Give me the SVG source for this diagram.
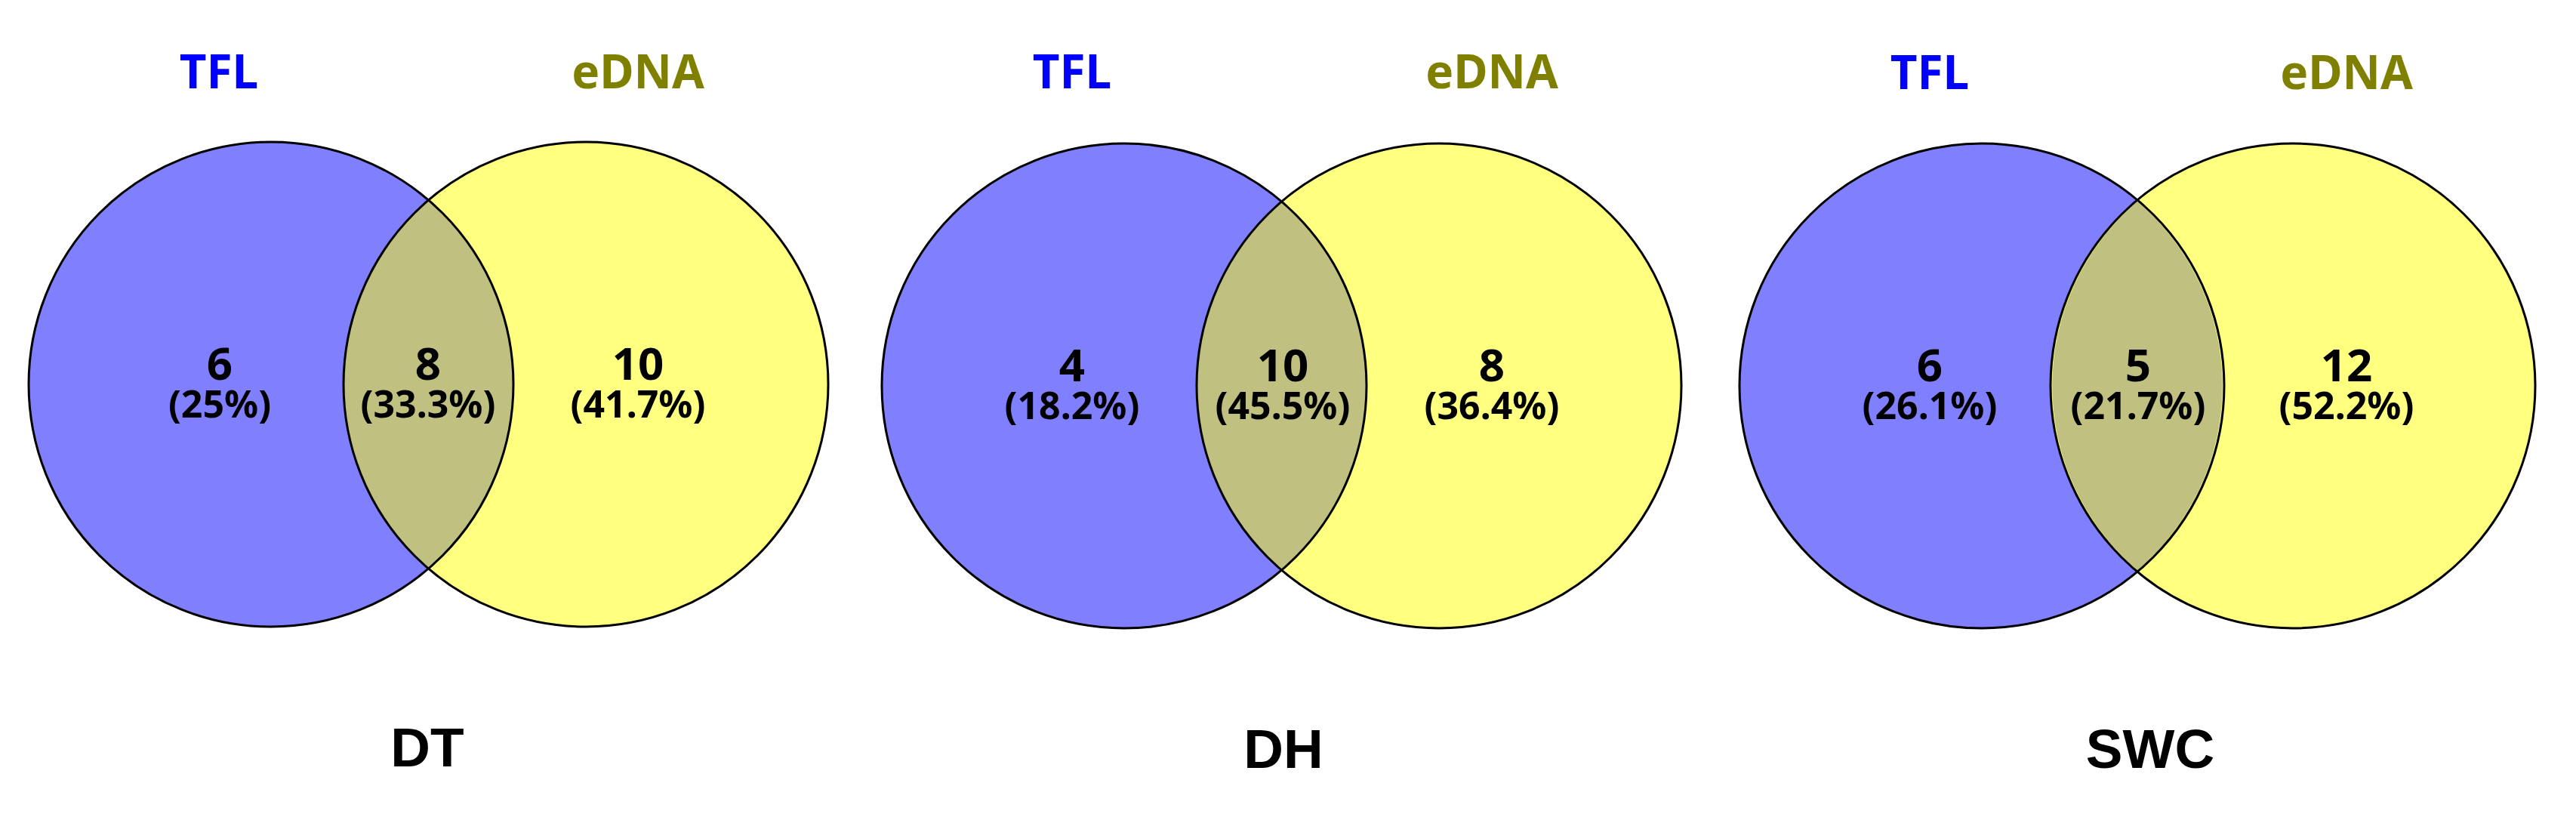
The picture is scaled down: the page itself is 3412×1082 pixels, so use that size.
<svg xmlns="http://www.w3.org/2000/svg" width="3412" height="1082" viewBox="0 0 3412 1082">
<style>
.bg{fill:#ffffff}
.a{fill:#8080ff}
.b{fill:#ffff80}
.ab{fill:#c0c080}
.ring{fill:none;stroke:#000;stroke-width:3}
.lab{font-family:"Noto Sans","Liberation Sans",sans-serif;font-weight:bold;font-size:62px;text-anchor:middle}
.tfl{fill:#0000ff}
.edna{fill:#808000}
.num{font-family:"Noto Sans","Liberation Sans",sans-serif;font-weight:bold;font-size:60px;text-anchor:middle;fill:#000}
.pct{font-family:"Noto Sans","Liberation Sans",sans-serif;font-weight:bold;font-size:50px;text-anchor:middle;fill:#000}
.title{font-family:"Liberation Sans",Arial,sans-serif;font-weight:bold;font-size:73px;text-anchor:middle;fill:#000}
</style>
<rect class="bg" x="0" y="0" width="3412" height="1082"/>

<g id="venn-DT">
  <g id="DT-TFL">
    <circle class="a" cx="359" cy="509" r="321"/>
    <text class="lab tfl" x="290" y="117">TFL</text>
    <text class="num" x="291" y="503">6</text>
    <text class="pct" x="291" y="553">(25%)</text>
  </g>
  <g id="DT-eDNA">
    <circle class="b" cx="776" cy="509" r="321"/>
    <text class="lab edna" x="845" y="117">eDNA</text>
    <text class="num" x="845" y="503">10</text>
    <text class="pct" x="845" y="553">(41.7%)</text>
  </g>
  <g id="DT-both">
    <path class="ab" d="M567.5,264.8 A321,321 0 0 1 567.5,753.2 A321,321 0 0 1 567.5,264.8 Z"/>
    <circle class="ring" cx="359" cy="509" r="321"/>
    <circle class="ring" cx="776" cy="509" r="321"/>
    <text class="num" x="567" y="503">8</text>
    <text class="pct" x="567" y="553">(33.3%)</text>
  </g>
  <text class="title" x="566" y="1015">DT</text>
</g>

<g id="venn-DH">
  <g id="DH-TFL">
    <circle class="a" cx="1489" cy="511" r="321"/>
    <text class="lab tfl" x="1420" y="117">TFL</text>
    <text class="num" x="1420" y="505">4</text>
    <text class="pct" x="1420" y="555">(18.2%)</text>
  </g>
  <g id="DH-eDNA">
    <circle class="b" cx="1906" cy="511" r="321"/>
    <text class="lab edna" x="1976" y="117">eDNA</text>
    <text class="num" x="1976" y="505">8</text>
    <text class="pct" x="1976" y="555">(36.4%)</text>
  </g>
  <g id="DH-both">
    <path class="ab" d="M1697.5,266.8 A321,321 0 0 1 1697.5,755.2 A321,321 0 0 1 1697.5,266.8 Z"/>
    <circle class="ring" cx="1489" cy="511" r="321"/>
    <circle class="ring" cx="1906" cy="511" r="321"/>
    <text class="num" x="1699" y="505">10</text>
    <text class="pct" x="1699" y="555">(45.5%)</text>
  </g>
  <text class="title" x="1700" y="1017">DH</text>
</g>

<g id="venn-SWC">
  <g id="SWC-TFL">
    <circle class="a" cx="2625" cy="511" r="321"/>
    <text class="lab tfl" x="2556" y="118">TFL</text>
    <text class="num" x="2556" y="505">6</text>
    <text class="pct" x="2556" y="555">(26.1%)</text>
  </g>
  <g id="SWC-eDNA">
    <circle class="b" cx="3037" cy="511" r="321"/>
    <text class="lab edna" x="3108" y="118">eDNA</text>
    <text class="num" x="3108" y="505">12</text>
    <text class="pct" x="3108" y="555">(52.2%)</text>
  </g>
  <g id="SWC-both">
    <path class="ab" d="M2831,266.8 A321,321 0 0 1 2831,755.2 A321,321 0 0 1 2831,266.8 Z"/>
    <circle class="ring" cx="2625" cy="511" r="321"/>
    <circle class="ring" cx="3037" cy="511" r="321"/>
    <text class="num" x="2832" y="505">5</text>
    <text class="pct" x="2832" y="555">(21.7%)</text>
  </g>
  <text class="title" x="2848" y="1017">SWC</text>
</g>
</svg>
